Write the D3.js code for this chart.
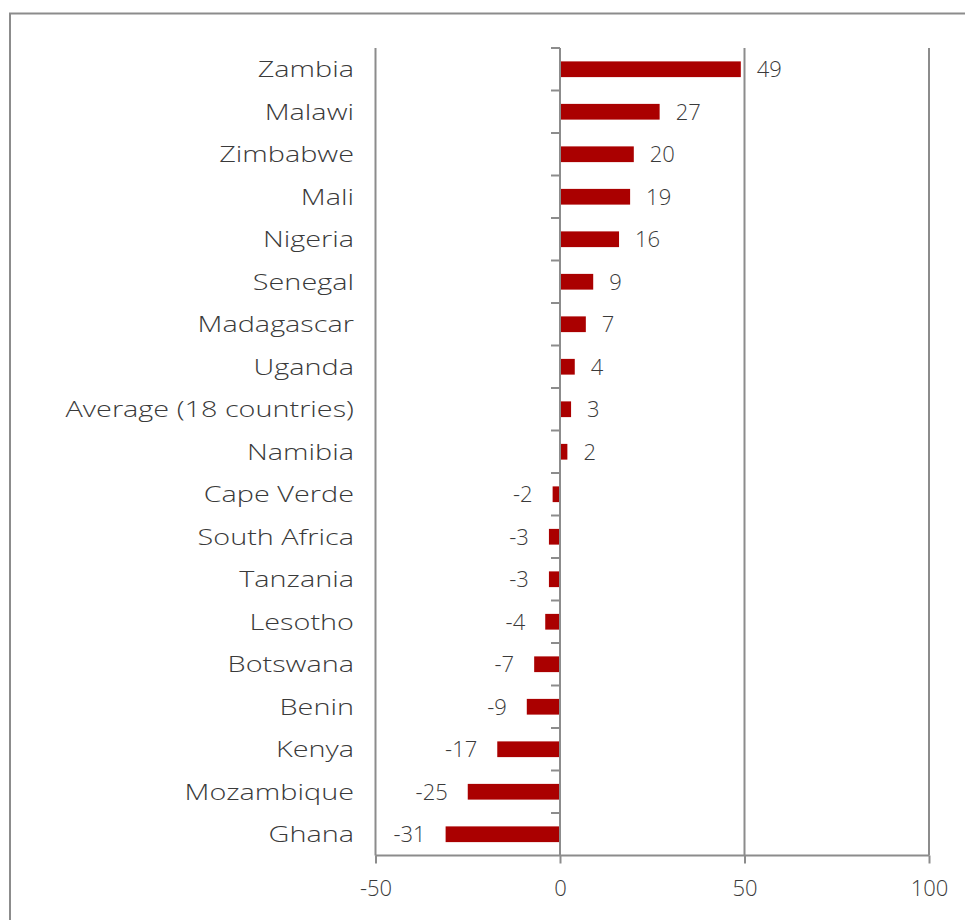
<!DOCTYPE html>
<html>
<head>
<meta charset="utf-8">
<script src="https://cdn.jsdelivr.net/npm/d3@7"></script>
<style>
  html, body { margin: 0; padding: 0; background: #ffffff; }
  svg { display: block; }
  text { font-family: "Open Sans", "Lato", sans-serif; fill: #3a3a3a; }
</style>
</head>
<body>
<svg id="chart" width="965" height="920"></svg>
<script>
// Countries, top to bottom
const countries = [
  "Zambia", "Malawi", "Zimbabwe", "Mali", "Nigeria", "Senegal", "Madagascar",
  "Uganda", "Average (18 countries)", "Namibia", "Cape Verde", "South Africa",
  "Tanzania", "Lesotho", "Botswana", "Benin", "Kenya", "Mozambique", "Ghana"
];
// Change per country
const values = [49, 27, 20, 19, 16, 9, 7, 4, 3, 2, -2, -3, -3, -4, -7, -9, -17, -25, -31];
// Value axis ticks
const xTicks = [-50, 0, 50, 100];

const data = countries.map((c, i) => ({ country: c, value: values[i] }));

const svg = d3.select("#chart");
const W = 965, H = 920;
const plot = { left: 375.5, right: 929, top: 48, bottom: 855.5 };
const axisColor = "#8c8c8c";
const barColor = "#aa0000";
const textColor = "#3a3a3a";
const fontSize = 22;
const fmt = v => String(v);   // plain hyphen for negatives

// Outer frame
svg.append("path")
  .attr("d", `M10,${H + 5} V13.5 H${W + 5}`)
  .attr("fill", "none")
  .attr("stroke", axisColor)
  .attr("stroke-width", 2);

const x = d3.scaleLinear().domain([-50, 100]).range([plot.left, plot.right]);
const y = d3.scaleBand().domain(countries).range([plot.top, plot.bottom]).paddingInner(0.63).paddingOuter(0.315);
const yStep = y.step();

// Vertical gridlines (zero carries the category axis instead)
svg.append("g")
  .selectAll("line")
  .data(xTicks.filter(t => t !== 0))
  .join("line")
  .attr("x1", d => x(d)).attr("x2", d => x(d))
  .attr("y1", plot.top).attr("y2", plot.bottom)
  .attr("stroke", axisColor).attr("stroke-width", 2);

// Bars
svg.append("g")
  .selectAll("rect")
  .data(data)
  .join("rect")
  .attr("x", d => x(Math.min(0, d.value)) + (d.value < 0 ? 0 : 1))
  .attr("width", d => Math.abs(x(d.value) - x(0)) - 1)
  .attr("y", d => y(d.country))
  .attr("height", y.bandwidth())
  .attr("fill", barColor);

// Category axis at zero with tick marks between categories
const catAxis = svg.append("g");
catAxis.append("line")
  .attr("x1", x(0)).attr("x2", x(0))
  .attr("y1", plot.top).attr("y2", plot.bottom)
  .attr("stroke", axisColor).attr("stroke-width", 2);
catAxis.selectAll("line.tick")
  .data(d3.range(countries.length))
  .join("line")
  .attr("class", "tick")
  .attr("x1", x(0) - 9).attr("x2", x(0))
  .attr("y1", i => plot.top + i * yStep)
  .attr("y2", i => plot.top + i * yStep)
  .attr("stroke", axisColor).attr("stroke-width", 2);

// Category labels, widened to a geometric proportion
const catLabels = svg.append("g")
  .selectAll("text")
  .data(countries)
  .join("text")
  .attr("x", 354)
  .attr("y", d => y(d) + y.bandwidth() / 2)
  .attr("dy", "0.36em")
  .attr("text-anchor", "end")
  .attr("font-size", fontSize)
  .attr("font-weight", 300)
  .text(d => d);
catLabels.each(function () {
  const w = this.getComputedTextLength();
  d3.select(this).attr("textLength", w * 1.31).attr("lengthAdjust", "spacingAndGlyphs");
});

// Value labels
svg.append("g")
  .selectAll("text")
  .data(data)
  .join("text")
  .attr("x", d => d.value >= 0 ? x(d.value) + 16 : x(d.value) - 20)
  .attr("y", d => y(d.country) + y.bandwidth() / 2)
  .attr("dy", "0.36em")
  .attr("text-anchor", d => d.value >= 0 ? "start" : "end")
  .attr("font-size", fontSize)
  .attr("font-weight", 300)
  .text(d => fmt(d.value));

// Value axis along the bottom
const xAxis = d3.axisBottom(x).tickValues(xTicks).tickSize(8).tickPadding(17).tickFormat(fmt);
const gx = svg.append("g")
  .attr("transform", `translate(0,${plot.bottom})`)
  .call(xAxis);
gx.select(".domain").attr("stroke", axisColor).attr("stroke-width", 2).attr("d", `M${plot.left},0H${plot.right}`);
gx.selectAll(".tick line").attr("stroke", axisColor).attr("stroke-width", 2);
gx.selectAll(".tick text")
  .attr("font-size", fontSize)
  .attr("font-weight", 300)
  .attr("font-family", "\"Open Sans\", \"Lato\", sans-serif")
  .attr("fill", textColor);
</script>
</body>
</html>
